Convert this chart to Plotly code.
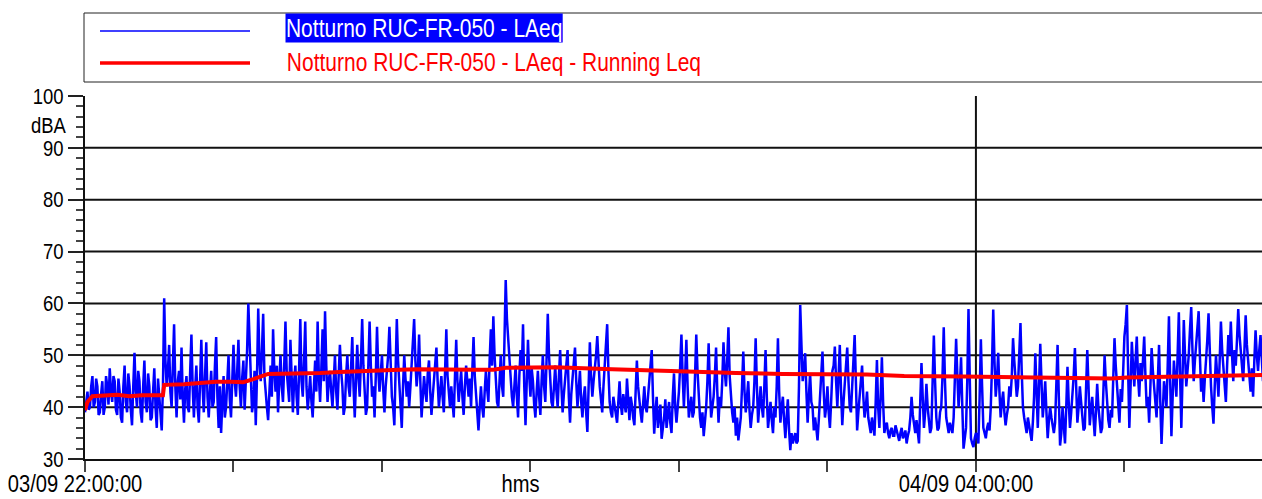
import numpy as np
import plotly.graph_objects as go

# ---------------------------------------------------------------
# Night-time noise survey RUC-FR-050, LAeq (dBA)
# starting 03/09 22:00:00
# ---------------------------------------------------------------
# values on the whole minute (minute 0 .. 476)
LAEQ = [
    39, 43, 40, 46, 41, 44, 39, 45, 40, 44,
    47.5, 41, 45, 38.5, 43, 37, 48, 39, 44, 36.5,
    50.5, 40, 45, 37, 49, 39, 44, 38, 47.5, 36,
    42, 35.5, 61, 44, 52, 40, 56, 38, 47, 51.5,
    37, 46, 39, 54, 38, 48, 37, 53, 39, 52.5,
    38, 47, 41, 53.5, 36, 35, 46, 40, 50, 38,
    52, 42, 53, 40, 49, 44, 60, 46, 41, 36.5,
    59, 45, 58, 42, 37.5, 48, 55, 43, 39, 50,
    41, 56.5, 44, 53, 39, 48, 38.5, 57, 42, 56.5,
    39.5, 46, 38, 49, 56.5, 41, 55, 58.5, 41, 47,
    40, 50, 39.5, 52, 44, 40, 50, 42, 53.5, 38,
    52, 42, 57, 44, 40, 56.5, 42, 38, 55.5, 43,
    50, 39, 47, 55.5, 42, 36.5, 57, 45, 36, 50,
    42, 40, 48, 57, 44, 54, 38, 46, 41, 49,
    38.5, 45, 51.5, 40, 46, 39, 55, 42, 44, 38,
    53, 41, 47, 38.5, 48, 42, 40, 53.5, 42, 35.5,
    44, 38, 47, 41, 55, 57.5, 44, 40, 50, 42,
    64.5, 53.5, 45, 40, 48, 38, 51, 56, 36.5, 53,
    42, 45, 38, 47, 38.5, 50, 41, 58, 44, 40,
    48, 40, 51, 39, 45, 51, 37, 46, 51.5, 40,
    47, 38, 44, 35.2, 52.5, 42, 47, 53.7, 44, 39,
    48, 56, 41, 38, 40, 37, 45, 38.5, 41, 45.5,
    37.5, 40.5, 36.5, 49, 41, 37, 44, 39, 45, 51,
    34.9, 42, 38, 33.9, 38, 36, 41, 35, 46.5, 37,
    43, 54, 40, 53, 38, 42, 39, 54, 41, 36,
    34.4, 40, 52.3, 38, 42, 51.5, 37, 40, 52.5, 44,
    55.4, 41, 37, 34.5, 33.6, 38, 50.7, 39, 45, 36,
    40, 53.3, 37, 44, 38, 51, 36, 41, 35, 38,
    53.3, 37, 42, 34, 41.5, 31.7, 33, 35, 33.5, 59.7,
    45, 50.4, 37, 46.5, 40, 38, 33.6, 42, 50.7, 38,
    44, 36, 47, 51.7, 40, 52, 36.5, 45, 51.5, 40,
    44, 53.9, 35.5, 42, 48, 38, 43, 36, 38, 34.5,
    49.1, 36, 49.6, 35, 37, 34, 36, 34.5, 35.5, 33.5,
    36, 34.5, 33, 35.5, 42, 36, 37.5, 33, 48.5, 36,
    44.5, 37, 36, 53.8, 38, 36, 40, 55.4, 38, 35,
    36, 38, 53.2, 40, 49.6, 32, 36, 58.9, 34, 32.3,
    35, 33, 53.1, 36, 34, 37, 40, 58.8, 42, 50.5,
    38, 43, 36.5, 40, 42, 53.3, 46, 44, 56.2, 40,
    36, 38, 35, 37, 50.4, 36, 52.2, 38, 45, 34,
    40, 36, 37, 52, 32.6, 40, 33, 47.8, 36, 42,
    51.4, 37, 44, 38, 36, 51, 36.5, 42, 34.4, 44.5,
    38, 36, 50, 40, 36, 38, 53.3, 44, 37, 41,
    53.6, 59.7, 36, 52.6, 44, 53.6, 42, 45, 53.6, 40,
    37, 51.4, 44, 38, 52, 32.9, 45, 40, 57.5, 34.4,
    49, 42, 58.3, 36, 56.8, 44, 50, 59.3, 45, 52,
    58.5, 43, 41, 49, 58.1, 44, 36.8, 50, 42, 56.5,
    47, 41, 53.9, 56.5, 45, 48, 58.9, 51, 45, 57.7,
    49, 43, 42, 54.8, 47, 53.9, 45,
]

# values on the half minute (minute 0.5 .. 475.5)
LAEQ_HALF = [
    41.5, 39.5, 44, 40, 45.5, 38.5, 42.5, 38.5, 46, 40.5,
    43, 46, 39.5, 45.5, 38, 44, 41, 46.5, 39.5, 44,
    43, 47, 39, 44, 41, 46.5, 37.5, 43, 40, 45.5,
    38, 44, 49, 47, 43, 48, 44, 45, 41.5, 42,
    43.5, 40, 47, 44, 43.5, 40, 45, 44, 46, 42,
    43, 40, 48, 42, 44, 41, 38, 45, 41.5, 45,
    45, 47, 44, 45.5, 39.5, 51, 50, 39, 47, 46,
    49, 51, 46, 40, 44, 42, 47, 48, 45, 44,
    48, 47, 41, 44, 45, 42, 47, 45, 49, 44,
    42.5, 41, 44, 43, 46, 47.5, 45, 48, 45, 43,
    45, 43, 46, 47, 38.5, 46, 44, 47.5, 44, 45,
    46, 49, 48, 38.5, 47, 48, 44, 46, 47, 46.5,
    43.5, 44, 50, 46, 40, 47, 49, 40, 44, 45.5,
    45, 44, 51, 49, 47, 45, 42, 43, 46.5, 43,
    42, 48, 45, 43, 42, 47, 46, 40, 41, 46,
    45, 44, 42, 44, 45, 45.5, 47, 46, 38, 40,
    40, 43, 43.5, 49, 48, 50, 41, 46.5, 44, 53,
    57, 48, 42, 45, 42, 46, 47, 44, 45, 46,
    47.5, 40.5, 43, 42, 45, 44, 49, 50, 41, 45,
    43, 46, 44, 42.5, 48, 42, 42.5, 49, 45, 43.5,
    41, 42, 39, 44, 46, 45, 50, 48, 41.5, 44,
    51, 47, 39, 42, 38.5, 41, 40.5, 42.5, 39, 41,
    42, 38, 43, 44, 39, 40.5, 40, 42, 47, 42,
    39, 36, 40.5, 36, 41.5, 38.5, 37, 42, 40, 40,
    48, 46, 46, 44, 40, 38, 46, 47, 38, 39,
    37.5, 45, 44, 40, 46, 43, 42, 45, 47, 49,
    46, 39, 40, 38, 36.5, 44, 43, 42, 39.5, 38.5,
    45, 44, 40.5, 40, 44, 42, 38.5, 37.5, 40, 44,
    43, 40, 37.5, 38, 35.5, 35, 34, 33, 44, 52,
    47, 43, 42, 41, 35.5, 36, 37.5, 45, 43, 40,
    39, 41, 48, 45, 46, 43, 41, 47, 45, 39,
    48, 45, 39, 44, 42, 40, 38, 35, 35.5, 41,
    40, 42, 41, 36.5, 35, 35.5, 34.5, 36.5, 34, 35,
    34, 35.5, 34.5, 38, 38.5, 35, 35, 41, 42, 39,
    40, 35, 44, 45, 35.5, 39, 46, 45, 36.5, 37,
    35, 44, 46, 44, 40, 34, 45, 46, 33, 34,
    34.5, 42, 44, 35, 36, 35.5, 48, 49, 45, 43,
    41, 39, 38.5, 44, 46, 49, 42, 49, 47, 38,
    35, 36.5, 33.5, 42, 43, 44, 45, 41, 39, 37.5,
    38, 35, 44, 42, 35, 36.5, 40, 41, 39, 46,
    43, 40, 41, 35.5, 43, 44, 39.5, 38, 39, 40,
    35, 42, 45, 37.5, 39.5, 46, 48, 40, 43.5, 47,
    56, 47, 44, 48, 49, 46, 48.5, 49, 46, 42,
    44, 47, 41, 45, 41, 39, 43, 48, 45, 42,
    45.5, 50, 46, 46, 50, 47, 55, 51, 49, 55,
    50, 46, 45.5, 53, 50, 40, 44, 46, 49, 51,
    44, 48, 50, 50, 51, 53, 54, 48, 51, 52,
    46, 47.5, 49, 50, 51, 49.5,
]

# Running Leq (dBA) read at minutes since 22:00
RUN_MIN = [0, 1, 3, 8, 13, 18, 23, 31.5, 32, 40, 45, 53, 59, 64, 68, 72, 74,
           95, 103, 127, 134, 158, 165, 170, 189, 190, 213, 227, 240, 263,
           282, 316, 331, 355, 390, 415, 421, 449, 465, 476]
RUN_LEQ = [39.4, 41, 42.1, 42.3, 42.4, 42.1, 42.3, 42.3, 44.3, 44.4, 44.6,
           44.9, 44.9, 44.8, 45.4, 46.2, 46.4, 46.6, 46.8, 47.2, 47.3, 47.2,
           47.2, 47.6, 47.6, 47.7, 47.3, 47.0, 46.9, 46.6, 46.4, 46.3, 46.0,
           45.9, 45.7, 45.5, 45.7, 45.9, 46.1, 46.2]

SERIES_NAMES = ["Notturno RUC-FR-050 - LAeq",
                "Notturno RUC-FR-050 - LAeq - Running Leq"]

# hourly ticks (minutes after 22:00) and their labels
HOUR_TICKS = [0, 60, 120, 180, 240, 300, 360, 420]
HOUR_LABELS = ["03/09 22:00:00", "", "", "hms", "", "", "04/09 04:00:00", ""]
MARKED_HOUR = 360            # 04:00 reference line
Y_TICKS = [30, 40, 50, 60, 70, 80, 90, 100]
Y_GRID = [40, 50, 60, 70, 80, 90]
Y_UNIT = "dBA"

# ---------------------------------------------------------------
W, H = 1262, 499
ML, MR, MT, MB = 85, 0, 96, 40
PW, PH = W - ML - MR, H - MT - MB
FONT = "Liberation Sans, Arial, sans-serif"
NARROW = 0.84                # horizontal squeeze giving a narrow face
BLUE, RED = "#0000ff", "#ff0000"


def px_x(x):
    return (x - ML) / PW


def px_y(y):
    return (H - MB - y) / PH


# merge whole-minute and half-minute samples into one time line
n_half = len(LAEQ_HALF)
t = np.empty(len(LAEQ) + n_half)
lv = np.empty_like(t)
t[0::2] = np.arange(len(LAEQ))
t[1::2] = np.arange(n_half) + 0.5
lv[0::2] = LAEQ
lv[1::2] = LAEQ_HALF

fig = go.Figure()
fig.add_trace(go.Scatter(x=t, y=lv, mode="lines",
                         line=dict(color=BLUE, width=2.5),
                         name=SERIES_NAMES[0], showlegend=False))
fig.add_trace(go.Scatter(x=RUN_MIN, y=RUN_LEQ, mode="lines",
                         line=dict(color=RED, width=4),
                         name=SERIES_NAMES[1], showlegend=False))

shapes = []
# horizontal grid
for g in Y_GRID:
    shapes.append(dict(type="line", xref="paper", yref="y", x0=0, x1=1,
                       y0=g, y1=g, line=dict(color="#111", width=2),
                       layer="below"))
# vertical reference line at 04:00
shapes.append(dict(type="line", xref="x", yref="paper", x0=MARKED_HOUR,
                   x1=MARKED_HOUR, y0=0, y1=1,
                   line=dict(color="#111", width=2), layer="below"))
# legend frame and samples
shapes.append(dict(type="rect", xref="paper", yref="paper",
                   x0=px_x(84), x1=px_x(1320), y0=px_y(82), y1=px_y(13),
                   line=dict(color="#222", width=1), fillcolor="white"))
shapes.append(dict(type="line", xref="paper", yref="paper",
                   x0=px_x(100), x1=px_x(250), y0=px_y(31), y1=px_y(31),
                   line=dict(color=BLUE, width=1.5)))
shapes.append(dict(type="line", xref="paper", yref="paper",
                   x0=px_x(100), x1=px_x(250), y0=px_y(63), y1=px_y(63),
                   line=dict(color=RED, width=3.5)))

annotations = [
    dict(text=SERIES_NAMES[0], xref="paper", yref="paper",
         x=px_x(285), y=px_y(28), xanchor="left", yanchor="middle",
         showarrow=False, bgcolor=BLUE, borderpad=0,
         font=dict(family=FONT, size=25, color="white")),
    dict(text=SERIES_NAMES[1], xref="paper", yref="paper",
         x=px_x(285), y=px_y(62), xanchor="left", yanchor="middle",
         showarrow=False, font=dict(family=FONT, size=25, color=RED)),
    dict(text=Y_UNIT, xref="paper", yref="y", x=0, xshift=-17, y=94.4,
         xanchor="right", yanchor="middle", showarrow=False,
         font=dict(family=FONT, size=22, color="black")),
]
for tv, tl in zip(HOUR_TICKS, HOUR_LABELS):
    if tl:
        annotations.append(dict(text=tl, xref="x", yref="paper", x=tv,
                                y=px_y(499), xshift=-10, xanchor="center",
                                yanchor="bottom", showarrow=False,
                                font=dict(family=FONT, size=24, color="black")))

fig.update_layout(
    width=W, height=H,
    margin=dict(l=ML, r=MR, t=MT, b=MB),
    paper_bgcolor="white", plot_bgcolor="white",
    shapes=shapes, annotations=annotations,
    xaxis=dict(range=[0, 475.6], showline=True, linecolor="#111",
               linewidth=2, ticks="outside", tickvals=HOUR_TICKS,
               ticklen=11, tickwidth=1.5, tickcolor="#444",
               showticklabels=False, showgrid=False, zeroline=False),
    yaxis=dict(range=[30, 100], showline=True, linecolor="#111",
               linewidth=2, ticks="outside", tickvals=Y_TICKS,
               ticklen=15, tickwidth=1.5, tickcolor="#222",
               tickfont=dict(family=FONT, size=22, color="black"),
               minor=dict(dtick=2, ticks="outside", ticklen=7,
                          tickwidth=1.5, tickcolor="#444", showgrid=False),
               showgrid=False, zeroline=False),
)

# squeeze all text horizontally around its anchor (narrow typeface look)
squeeze_js = """
var gd = document.getElementById('{plot_id}');
var k = %s;
function squeeze(el, origin) {
  el.style.transformBox = 'fill-box';
  el.style.transformOrigin = origin;
  el.style.transform = 'scaleX(' + k + ')';
}
gd.querySelectorAll('g.ytick').forEach(function (t) { squeeze(t, 'right center'); });
gd.querySelectorAll('g.annotation').forEach(function (a) {
  var i = a.getAttribute('data-index');
  var origin = (i === '0' || i === '1') ? 'left center'
             : (i === '2' ? 'right center' : 'center center');
  squeeze(a, origin);
});
""" % NARROW

fig.write_html("out.html", post_script=squeeze_js)
